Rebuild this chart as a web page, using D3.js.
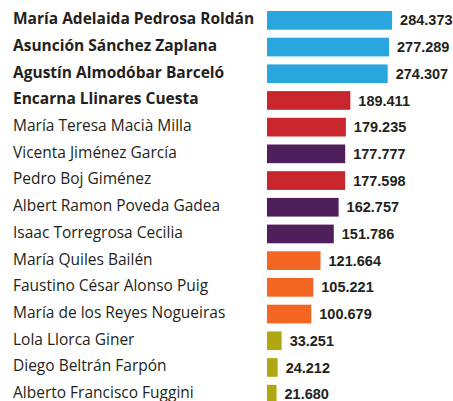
<!DOCTYPE html>
<head>
    <meta charset="utf-8">
</head>

<style type="text/css">
    body {
        margin: 0;
        background: #fff;
    }
    .name {
        font-family: "Open Sans", sans-serif;
        font-size: 15.5px;
        fill: #231f20;
    }
    .name.top {
        font-weight: bold;
    }
    .val {
        font-family: "Liberation Sans", Arial, sans-serif;
        font-weight: bold;
        font-size: 14.5px;
        fill: #231f20;
    }
</style>

<body>
    <div class="g-chart-container"></div>
</body>

<script src="https://d3js.org/d3.v7.min.js"></script>

<script>

var names = [
    "María Adelaida Pedrosa Roldán",
    "Asunción Sánchez Zaplana",
    "Agustín Almodóbar Barceló",
    "Encarna Llinares Cuesta",
    "María Teresa Macià Milla",
    "Vicenta Jiménez García",
    "Pedro Boj Giménez",
    "Albert Ramon Poveda Gadea",
    "Isaac Torregrosa Cecilia",
    "María Quiles Bailén",
    "Faustino César Alonso Puig",
    "María de los Reyes Nogueiras",
    "Lola Llorca Giner",
    "Diego Beltrán Farpón",
    "Alberto Francisco Fuggini"
];

var values = [284.373, 277.289, 274.307, 189.411, 179.235, 177.777, 177.598,
              162.757, 151.786, 121.664, 105.221, 100.679, 33.251, 24.212, 21.680];

// group per row -> colour
var groups = ["a", "a", "a", "b", "b", "c", "b", "c", "c", "d", "d", "d", "e", "e", "e"];

var boldCount = 4;

var colors = d3.scaleOrdinal()
    .domain(["a", "b", "c", "d", "e"])
    .range(["#29a6de", "#c9252c", "#4e1f5b", "#f26522", "#b0a813"]);

var w = 453, h = 401;

var data = names.map(function(n, i) {
    return {name: n, val: values[i], group: groups[i], bold: i < boldCount};
});

var svg = d3.select(".g-chart-container").append("svg")
    .attr("width", w)
    .attr("height", h)
    .style("display", "block");

var xscale = d3.scaleLinear()
    .domain([0, 300])
    .range([267, 399]);

var yscale = d3.scaleBand()
    .domain(names)
    .range([3, 411.5])
    .padding(0.3);

var fmt = d3.format(".3f");

var row = svg.selectAll(".row")
    .data(data)
    .enter()
    .append("g")
    .attr("class", "row")
    .attr("transform", function(d) { return "translate(0," + yscale(d.name) + ")"; });

row.append("rect")
    .attr("x", xscale(0))
    .attr("y", 0)
    .attr("height", yscale.bandwidth())
    .attr("width", function(d) { return xscale(d.val) - xscale(0); })
    .attr("fill", function(d) { return colors(d.group); });

row.append("text")
    .attr("class", function(d) { return d.bold ? "name top" : "name"; })
    .attr("x", 13)
    .attr("y", yscale.bandwidth() / 2 - 1.5)
    .attr("dy", "0.35em")
    .text(function(d) { return d.name; });

row.append("text")
    .attr("class", "val")
    .attr("x", function(d) { return xscale(d.val) + 8; })
    .attr("y", yscale.bandwidth() / 2)
    .attr("dy", "0.35em")
    .text(function(d) { return fmt(d.val); });

</script>
